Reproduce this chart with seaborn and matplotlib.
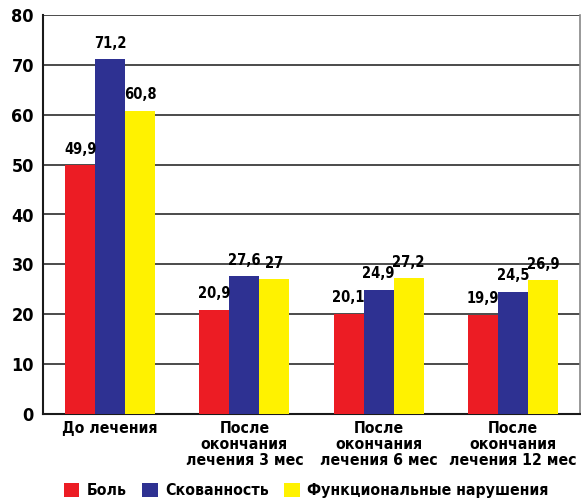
import matplotlib
matplotlib.use("Agg")
import matplotlib.pyplot as plt
from matplotlib.patches import Patch
import seaborn as sns
import pandas as pd

categories = ["До лечения",
              "После\nокончания\nлечения 3 мес",
              "После\nокончания\nлечения 6 мес",
              "После\nокончания\nлечения 12 мес"]
series = ["Боль", "Скованность", "Функциональные нарушения"]
pain = [49.9, 20.9, 20.1, 19.9]
stiffness = [71.2, 27.6, 24.9, 24.5]
function = [60.8, 27.0, 27.2, 26.9]
colors = ["#EC1C24", "#2E3192", "#FFF200"]
y_ticks = [0, 10, 20, 30, 40, 50, 60, 70, 80]

rows = []
for name, vals in zip(series, [pain, stiffness, function]):
    for cat, v in zip(categories, vals):
        rows.append({"cat": cat, "series": name, "val": v})
df = pd.DataFrame(rows)

sns.set_style("white")
plt.rcParams["font.family"] = ["DejaVu Sans"]
plt.rcParams["font.stretch"] = "condensed"
plt.rcParams["font.weight"] = "bold"
plt.rcParams["text.color"] = "black"
plt.rcParams["xtick.color"] = "black"
plt.rcParams["ytick.color"] = "black"

fig = plt.figure(figsize=(5.81, 5.04), dpi=100)
ax = fig.add_axes([43 / 581, 90 / 504, 537 / 581, 399 / 504])

sns.barplot(data=df, x="cat", y="val", hue="series", order=categories,
            hue_order=series, palette=colors, saturation=1, width=0.67,
            errorbar=None, ax=ax, legend=False, zorder=3, linewidth=0)

ax.set_ylim(0, 80)
ax.set_xlim(-0.5, len(categories) - 0.5)
ax.set_yticks(y_ticks)
ax.set_yticklabels([str(t) for t in y_ticks], fontsize=13, fontweight="bold")
ax.yaxis.grid(True, color="#1a1a1a", linewidth=1.1, zorder=0)
ax.set_axisbelow(True)

# category labels centred, ticks at category boundaries
ax.set_xticks(range(len(categories)))
ax.set_xticklabels(categories, fontsize=11.3, fontweight="bold", linespacing=1.08)
ax.tick_params(axis="x", length=0, pad=5)
ax.set_xticks([i + 0.5 for i in range(-1, len(categories))], minor=True)
ax.tick_params(axis="x", which="minor", length=9, width=1.2, color="#1a1a1a",
               direction="out")
ax.tick_params(axis="y", length=9, width=1.2, color="#1a1a1a", direction="inout",
               pad=2)
ax.set_xlabel("")
ax.set_ylabel("")

for side in ["left", "bottom"]:
    ax.spines[side].set_color("#1a1a1a")
    ax.spines[side].set_linewidth(1.5)
ax.spines["top"].set_visible(False)
ax.spines["right"].set_color("#888888")
ax.spines["right"].set_linewidth(1.2)

for container in ax.containers:
    ax.bar_label(container, labels=[f"{v:g}".replace(".", ",") for v in container.datavalues],
                 padding=6, fontsize=10.5, fontweight="bold")

handles = [Patch(facecolor=c, edgecolor="none") for c in colors]
fig.legend(handles, series, loc="lower center", bbox_to_anchor=(0.527, -0.016),
           ncol=3, frameon=False, handlelength=1.0,
           handleheight=1.0, handletextpad=0.45, columnspacing=1.0,
           prop={"weight": "bold", "size": 11.3, "stretch": "condensed"})

fig.savefig("out.png", dpi=100)
